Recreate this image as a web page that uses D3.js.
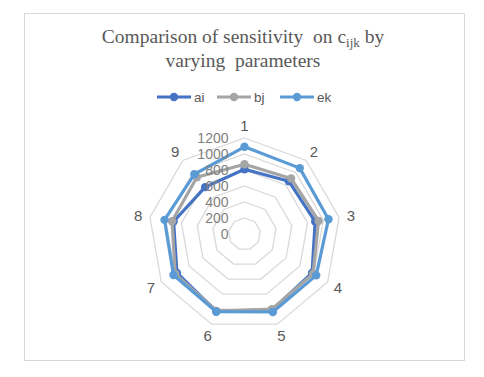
<!DOCTYPE html>
<html>
<head>
<meta charset="utf-8">
<script src="https://cdn.jsdelivr.net/npm/d3@7"></script>
<style>
  body { margin: 0; background: #fff; }
  text { font-family: "Liberation Sans", Arial, sans-serif; }
</style>
</head>
<body>
<div id="chart"></div>
<script>
// chart data
var categories = ["1", "2", "3", "4", "5", "6", "7", "8", "9"];
var seriesNames = ["ai", "bj", "ek"];
var aiValues = [810, 862, 897, 975, 1010, 1030, 975, 900, 765];
var bjValues = [871, 906, 940, 990, 1000, 1025, 1000, 920, 925];
var ekValues = [1090, 1075, 1066, 1035, 1037, 1034, 1025, 1015, 975];
var tickValues = [0, 200, 400, 600, 800, 1000, 1200];

var width = 484,
    height = 377,
    cx = 244.5,
    cy = 234,
    radius = 96;

var colors = { ai: "#4472C4", bj: "#A5A5A5", ek: "#5B9BD5" };
var seriesData = [
  { name: "ai", values: aiValues },
  { name: "bj", values: bjValues },
  { name: "ek", values: ekValues }
];

var svg = d3.select("#chart")
  .append("svg")
  .attr("width", width)
  .attr("height", height);

// outer chart frame
svg.append("rect")
  .attr("x", 24.5).attr("y", 13.5)
  .attr("width", 440).attr("height", 347)
  .attr("fill", "#fff")
  .attr("stroke", "#d9d9d9");

// title, with subscript
var title = svg.append("text")
  .attr("text-anchor", "middle")
  .attr("fill", "#595959")
  .style("white-space", "pre")
  .style("font-family", "'Liberation Serif', 'Times New Roman', serif")
  .style("font-size", "19.5px");
var line1 = title.append("tspan").attr("x", 243).attr("y", 43);
line1.append("tspan").text("Comparison of sensitivity  on c");
line1.append("tspan").attr("dy", 4).style("font-size", "13px").text("ijk");
line1.append("tspan").attr("dy", -4).text(" by");
title.append("tspan").attr("x", 243).attr("y", 67).text("varying  parameters");

var r = d3.scaleLinear().domain([0, 1200]).range([0, radius]);
var angle = d3.scaleLinear().domain([0, categories.length]).range([0, 2 * Math.PI]);

var g = svg.append("g").attr("transform", "translate(" + cx + "," + cy + ")");

// grid rings
var ring = d3.lineRadial()
  .angle(function(d, i) { return angle(i); })
  .radius(function(d) { return r(d); })
  .curve(d3.curveLinearClosed);

g.selectAll(".ring")
  .data(tickValues.slice(1))
  .enter()
  .append("path")
  .attr("class", "ring")
  .attr("d", function(t) { return ring(categories.map(function() { return t; })); })
  .attr("fill", "none")
  .attr("stroke", "#d9d9d9")
  .attr("stroke-width", 1.3);

// category labels
g.selectAll(".cat")
  .data(categories)
  .enter()
  .append("text")
  .attr("class", "cat")
  .attr("x", function(d, i) { return Math.sin(angle(i)) * (radius + 12); })
  .attr("y", function(d, i) { return -Math.cos(angle(i)) * (radius + 12); })
  .attr("dy", "0.35em")
  .attr("text-anchor", "middle")
  .attr("fill", "#595959")
  .style("font-size", "15px")
  .text(function(d) { return d; });

// series lines
var line = d3.lineRadial()
  .angle(function(d, i) { return angle(i); })
  .radius(function(d) { return r(d); })
  .curve(d3.curveLinearClosed);

var series = g.selectAll(".series")
  .data(seriesData)
  .enter()
  .append("g")
  .attr("class", "series");

series.append("path")
  .attr("d", function(d) { return line(d.values); })
  .attr("fill", "none")
  .attr("stroke", function(d) { return colors[d.name]; })
  .attr("stroke-width", 3.2)
  .attr("stroke-linejoin", "round");

series.selectAll("circle")
  .data(function(d) { return d.values.map(function(v) { return { name: d.name, v: v }; }); })
  .enter()
  .append("circle")
  .attr("cx", function(d, i) { return Math.sin(angle(i)) * r(d.v); })
  .attr("cy", function(d, i) { return -Math.cos(angle(i)) * r(d.v); })
  .attr("r", 4.2)
  .attr("fill", function(d) { return colors[d.name]; });

// radial axis labels
g.selectAll(".tick")
  .data(tickValues)
  .enter()
  .append("text")
  .attr("class", "tick")
  .attr("x", -16)
  .attr("y", function(d) { return -r(d); })
  .attr("dy", "0.35em")
  .attr("text-anchor", "end")
  .attr("fill", "#7f7f7f")
  .style("font-size", "14px")
  .text(function(d) { return d; });

// legend
var legendX = [157, 217, 280];
var legend = svg.selectAll(".legend")
  .data(seriesNames)
  .enter()
  .append("g")
  .attr("class", "legend")
  .attr("transform", function(d, i) { return "translate(" + legendX[i] + ",97)"; });

legend.append("line")
  .attr("x1", 0).attr("x2", 34)
  .attr("stroke", function(d) { return colors[d]; })
  .attr("stroke-width", 3.2);
legend.append("circle")
  .attr("cx", 17).attr("r", 4.2)
  .attr("fill", function(d) { return colors[d]; });
legend.append("text")
  .attr("x", 37)
  .attr("dy", "0.35em")
  .attr("fill", "#595959")
  .style("font-size", "13.5px")
  .text(function(d) { return d; });
</script>
</body>
</html>
